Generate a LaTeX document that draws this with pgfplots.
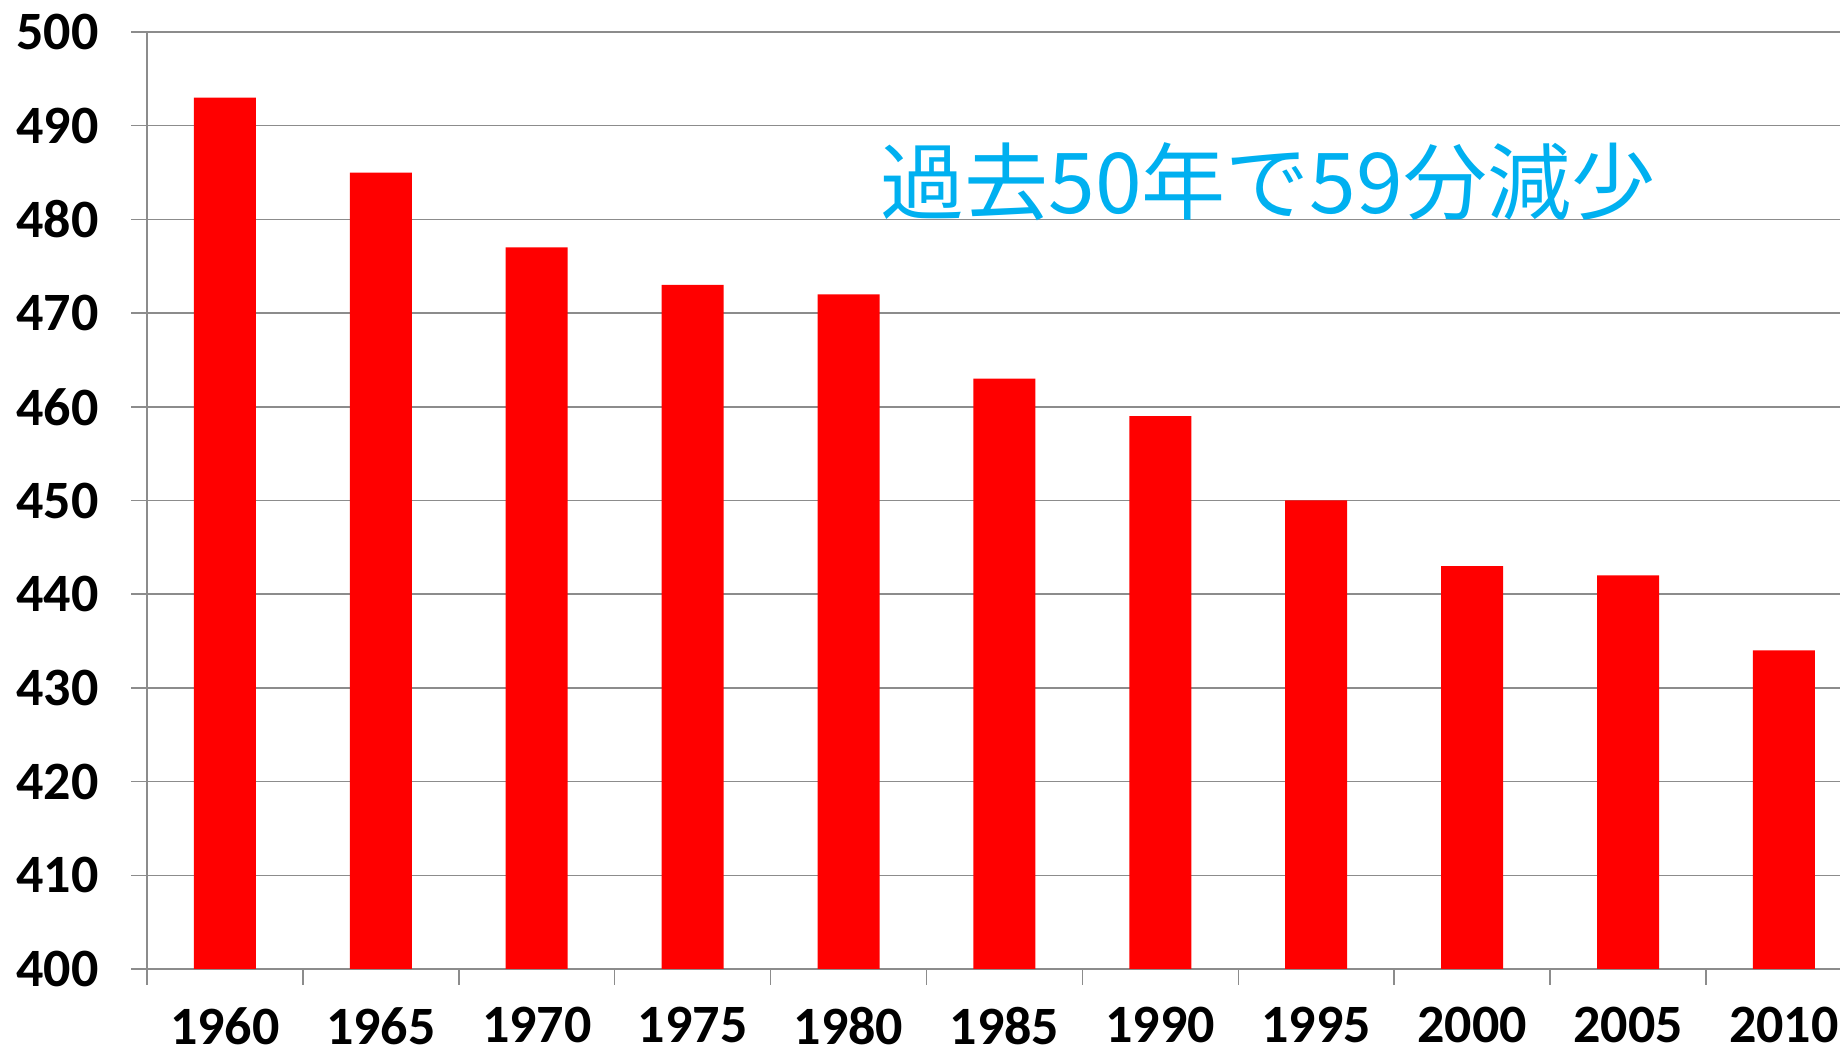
\documentclass[border=0pt]{standalone}
\usepackage{fontspec}
\setmainfont{Carlito}
\newfontfamily\cjk{Noto Sans CJK JP}
\usepackage{pgfplots}
\pgfplotsset{compat=1.18}
\definecolor{barred}{RGB}{255,0,0}
\definecolor{gridgray}{RGB}{140,140,140}
\definecolor{noteblue}{RGB}{0,176,240}
\begin{document}
\begin{tikzpicture}
\begin{axis}[
  scale only axis,
  width=846.5pt, height=468.5pt,
  ybar, bar width=31pt,
  xmin=-0.5, xmax=10.36,
  ymin=400, ymax=500,
  ytick={400,410,...,500},
  xtick={0,...,10},
  xticklabels={1960,1965,1970,1975,1980,1985,1990,1995,2000,2005,2010},
  minor xtick={-0.5,0.5,...,10.5},
  axis x line*=bottom, axis y line*=left,
  axis line style={gridgray, line width=0.75pt},
  ymajorgrids,
  major grid style={gridgray, line width=0.75pt},
  tick align=outside,
  major tick length=8pt, minor tick length=8pt,
  every tick/.style={gridgray, line width=0.75pt},
  major x tick style={draw=none},
  /pgf/number format/assume math mode=true,
  /pgf/number format/1000 sep={},
  ticklabel style={font=\bfseries\fontsize{27}{32}\selectfont, text=black, inner sep=0pt},
  yticklabel style={xshift=-16pt},
  xticklabel style={yshift=-11pt},
]
\addplot[fill=barred, draw=none] coordinates {
  (0,493) (1,485) (2,477) (3,473) (4,472) (5,463)
  (6,459) (7,450) (8,443) (9,442) (10,434)
};
\node[text=noteblue, font=\cjk\fontsize{42}{50}\selectfont, anchor=center]
  at (axis cs:6.69,484) {過去50年で59分減少};
\end{axis}
\pgfresetboundingbox
\path (-73.5pt,-44.5pt) rectangle (846.5pt,484.5pt);
\end{tikzpicture}
\end{document}
